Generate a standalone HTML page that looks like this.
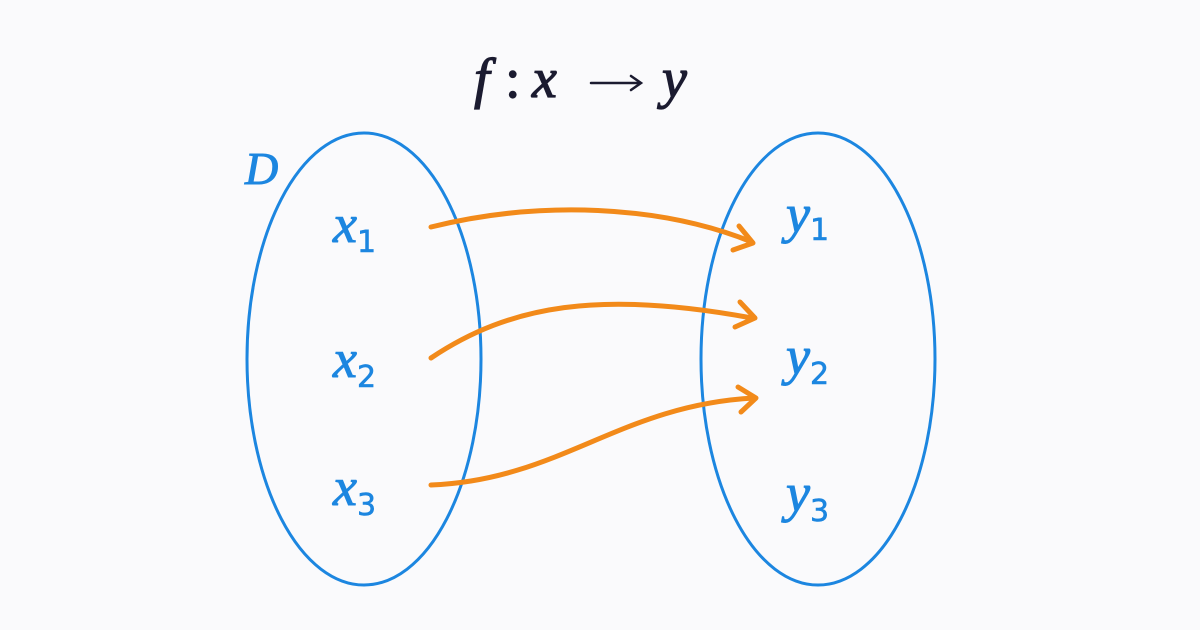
<!DOCTYPE html>
<html><head><meta charset="utf-8"><style>
html,body{margin:0;padding:0;background:#fafafc;}
svg{display:block}
.b{fill:#1c86e0;stroke:#1c86e0;stroke-width:1;font-family:"Liberation Serif",serif;}
.i{font-style:italic;font-size:54px;}
.s{font-size:30px;font-family:"DejaVu Sans",sans-serif;stroke-width:0.6;}
.t{fill:#1b1b30;stroke:#1b1b30;stroke-width:1.2;font-family:"Liberation Serif",serif;font-size:56px;}
</style></head><body>
<svg width="1200" height="630" viewBox="0 0 1200 630" xmlns="http://www.w3.org/2000/svg">
<rect width="1200" height="630" fill="#fafafc"/>
<text x="474" y="97" class="t" font-style="italic">f</text>
<text x="505" y="97" class="t">:</text>
<text x="532" y="97" class="t" font-style="italic">x</text>
<g stroke="#1b1b30" stroke-width="2.5" fill="none" stroke-linecap="round">
<line x1="591" y1="83" x2="640" y2="83"/>
<path d="M631 76 L641 83 L631 90"/>
</g>
<text x="662" y="97" class="t" font-style="italic">y</text>
<ellipse cx="364" cy="359" rx="117" ry="226" fill="none" stroke="#1c86e0" stroke-width="3"/>
<ellipse cx="818" cy="359" rx="117" ry="226" fill="none" stroke="#1c86e0" stroke-width="3"/>
<text x="245" y="184" class="b" font-style="italic" font-size="46">D</text>
<text x="333" y="242" class="b"><tspan class="i">x</tspan><tspan class="s" dy="10">1</tspan></text>
<text x="333" y="377" class="b"><tspan class="i">x</tspan><tspan class="s" dy="10">2</tspan></text>
<text x="333" y="505" class="b"><tspan class="i">x</tspan><tspan class="s" dy="10">3</tspan></text>
<text x="786" y="232" class="b"><tspan class="i">y</tspan><tspan class="s" dy="8">1</tspan></text>
<text x="786" y="374" class="b"><tspan class="i">y</tspan><tspan class="s" dy="10">2</tspan></text>
<text x="786" y="511" class="b"><tspan class="i">y</tspan><tspan class="s" dy="10">3</tspan></text>
<g fill="none" stroke="#f28a1a" stroke-width="5" stroke-linecap="round" stroke-linejoin="round">
<path d="M431 227 C540 200 660 205 752 242"/>
<path d="M739 226 L753 243 L733 250"/>
<path d="M431 358 C510 305 600 290 752 318"/>
<path d="M740 302 L755 318 L735 327"/>
<path d="M431 485 C560 480 620 405 754 398"/>
<path d="M738 387 L756 398 L741 412"/>
</g>
</svg>
</body></html>
